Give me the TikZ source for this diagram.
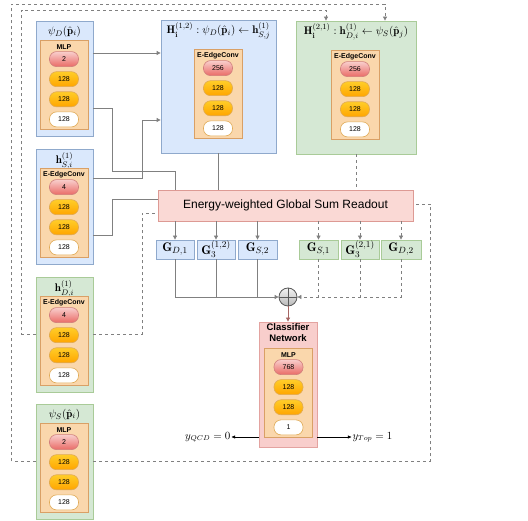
\documentclass[tikz,border=0pt]{standalone}
\usepackage{amsmath}
\usepackage{amssymb}
\usepackage{fontspec}
\setsansfont{Liberation Sans}
\usepackage{tikz}
\usetikzlibrary{positioning,arrows.meta}

\definecolor{blueFill}{HTML}{DAE8FC}
\definecolor{blueLine}{HTML}{8FA9CC}
\definecolor{greenFill}{HTML}{D5E8D4}
\definecolor{greenLine}{HTML}{A9CB98}
\definecolor{layerFill}{HTML}{FAD7AC}
\definecolor{layerLine}{HTML}{D9A066}
\definecolor{redTop}{HTML}{F8CECC}
\definecolor{redBot}{HTML}{EA6B66}
\definecolor{redLine}{HTML}{D07F7C}
\definecolor{yelTop}{HTML}{FFCD28}
\definecolor{yelBot}{HTML}{FFA500}
\definecolor{yelLine}{HTML}{E0AA55}
\definecolor{readFill}{HTML}{FAD9D5}
\definecolor{readLine}{HTML}{DD9A94}
\definecolor{clsFill}{HTML}{F8CECC}
\definecolor{clsLine}{HTML}{E3A3A0}
\definecolor{wireGray}{HTML}{808080}

\begin{document}
\begin{tikzpicture}[x=1pt,y=-1pt,
	blue box/.style={draw=blueLine, fill=blueFill, line width=0.8pt},
	green box/.style={draw=greenLine, fill=greenFill, line width=0.8pt},
	stack box/.style={minimum width=57pt, minimum height=115pt},
	layer box/.style={draw=layerLine, fill=layerFill, line width=0.8pt, minimum width=48pt, minimum height=89pt},
	pill/.style={rounded corners=7pt, minimum width=29pt, minimum height=15pt, inner sep=0pt, line width=0.6pt, font=\sffamily\fontsize{7}{8}\selectfont},
	red pill/.style={pill, draw=redLine, top color=redTop, bottom color=redBot},
	yellow pill/.style={pill, draw=yelLine, top color=yelTop, bottom color=yelBot},
	white pill/.style={pill, draw=yelLine, fill=white},
	layer name/.style={inner sep=0pt, font=\sffamily\bfseries\fontsize{7}{8}\selectfont},
	title node/.style={inner sep=0pt, font=\fontsize{11}{13}\selectfont},
	g node/.style={minimum height=19pt, inner sep=0pt, line width=0.8pt, font=\fontsize{12.5}{14}\selectfont},
	conn/.style={draw=wireGray, line width=0.8pt},
	conn arrow/.style={conn, -{Triangle[length=4pt,width=4pt]}},
	dash conn/.style={conn, dashed},
	dash arrow/.style={dash conn, -{Triangle[length=4pt,width=4pt]}}]

	\useasboundingbox (0,0) rectangle (528,521);

	\node[blue box, stack box](psiD) at (64.5,78.5){};
		\node[title node](psiDt) at ([yshift=-11pt]psiD.north){$\psi_D(\hat{\mathbf{p}}_i)$};
		\node[layer box](psiDin) at (64,84.5){};
		\node[layer name](psiDn) at ([yshift=-7pt]psiDin.north){MLP};
		\node[red pill](psiD1) at ([yshift=-19.5pt]psiDin.north){2};
		\node[yellow pill](psiD2)[below = 4.5pt of psiD1]{128};
		\node[yellow pill](psiD3)[below = 4.5pt of psiD2]{128};
		\node[white pill](psiD4)[below = 4.5pt of psiD3]{128};

	\node[blue box, stack box](hS) at (64.5,206.5){};
		\node[title node](hSt) at ([yshift=-12pt]hS.north){$\mathbf{h}_{S,i}^{(1)}$};
		\node[layer box](hSin) at (64,212.5){};
		\node[layer name](hSn) at ([yshift=-7pt]hSin.north){E-EdgeConv};
		\node[red pill](hS1) at ([yshift=-19.5pt]hSin.north){4};
		\node[yellow pill](hS2)[below = 4.5pt of hS1]{128};
		\node[yellow pill](hS3)[below = 4.5pt of hS2]{128};
		\node[white pill](hS4)[below = 4.5pt of hS3]{128};

	\node[green box, stack box](hD) at (64.5,334.5){};
		\node[title node](hDt) at ([yshift=-12pt]hD.north){$\mathbf{h}_{D,i}^{(1)}$};
		\node[layer box](hDin) at (64,340.5){};
		\node[layer name](hDn) at ([yshift=-7pt]hDin.north){E-EdgeConv};
		\node[red pill](hD1) at ([yshift=-19.5pt]hDin.north){4};
		\node[yellow pill](hD2)[below = 4.5pt of hD1]{128};
		\node[yellow pill](hD3)[below = 4.5pt of hD2]{128};
		\node[white pill](hD4)[below = 4.5pt of hD3]{128};

	\node[green box, stack box](psiS) at (64.5,461.5){};
		\node[title node](psiSt) at ([yshift=-11pt]psiS.north){$\psi_S(\hat{\mathbf{p}}_i)$};
		\node[layer box](psiSin) at (64,467.5){};
		\node[layer name](psiSn) at ([yshift=-7pt]psiSin.north){MLP};
		\node[red pill](psiS1) at ([yshift=-19.5pt]psiSin.north){2};
		\node[yellow pill](psiS2)[below = 4.5pt of psiS1]{128};
		\node[yellow pill](psiS3)[below = 4.5pt of psiS2]{128};
		\node[white pill](psiS4)[below = 4.5pt of psiS3]{128};

	\node[blue box, minimum width=115pt, minimum height=133pt](H12) at (218.5,86.5){};
		\node[title node](H12t) at ([yshift=-11pt]H12.north){$\mathbf{H}_{\mathbf{i}}^{(1,2)}:\psi_D(\hat{\mathbf{p}}_i)\leftarrow\mathbf{h}_{S,j}^{(1)}$};
		\node[layer box](H12in) at (218,93.5){};
		\node[layer name](H12n) at ([yshift=-7pt]H12in.north){E-EdgeConv};
		\node[red pill](H121) at ([yshift=-19.5pt]H12in.north){256};
		\node[yellow pill](H122)[below = 4.5pt of H121]{128};
		\node[yellow pill](H123)[below = 4.5pt of H122]{128};
		\node[white pill](H124)[below = 4.5pt of H123]{128};

	\node[green box, minimum width=120pt, minimum height=133pt](H21) at (356,87.5){};
		\node[title node](H21t) at ([yshift=-11pt]H21.north){$\mathbf{H}_{\mathbf{i}}^{(2,1)}:\mathbf{h}_{D,i}^{(1)}\leftarrow\psi_S(\hat{\mathbf{p}}_j)$};
		\node[layer box](H21in) at (355,94.5){};
		\node[layer name](H21n) at ([yshift=-7pt]H21in.north){E-EdgeConv};
		\node[red pill](H211) at ([yshift=-19.5pt]H21in.north){256};
		\node[yellow pill](H212)[below = 4.5pt of H211]{128};
		\node[yellow pill](H213)[below = 4.5pt of H212]{128};
		\node[white pill](H214)[below = 4.5pt of H213]{128};

	\node[draw=readLine, fill=readFill, line width=0.8pt, minimum width=255pt, minimum height=31pt, font=\sffamily\fontsize{12}{14}\selectfont](readout) at (285.5,205.5){Energy-weighted Global Sum Readout};

	\node[g node, blue box, minimum width=38pt](GD1) at (175,249.5){$\mathbf{G}_{D,1}$};
	\node[g node, blue box, minimum width=38pt](G312) at (216,249.5){$\mathbf{G}_3^{(1,2)}$};
	\node[g node, blue box, minimum width=39pt](GS2) at (257.5,249.5){$\mathbf{G}_{S,2}$};
	\node[g node, green box, minimum width=39pt](GS1) at (318.5,249.5){$\mathbf{G}_{S,1}$};
	\node[g node, green box, minimum width=38pt](G321) at (360,249.5){$\mathbf{G}_3^{(2,1)}$};
	\node[g node, green box, minimum width=40pt](GD2) at (401,249.5){$\mathbf{G}_{D,2}$};

	\node[circle, draw=black!65, line width=0.8pt, minimum size=18pt, inner sep=0pt, top color=gray!10, bottom color=gray!55](plus) at (288,297){};
	\draw[black!65, line width=0.8pt] (plus.north) -- (plus.south) (plus.west) -- (plus.east);

	\node[draw=clsLine, fill=clsFill, line width=0.8pt, minimum width=58pt, minimum height=125pt](cls) at (288,384.5){};
		\node[align=center, inner sep=0pt, font=\sffamily\bfseries\fontsize{9.5}{10.5}\selectfont](clst) at ([yshift=-11pt]cls.north){Classifier\\Network};
		\node[layer box](clsin) at (288.5,392.5){};
		\node[layer name](clsn) at ([yshift=-7pt]clsin.north){MLP};
		\node[red pill](cls1) at ([yshift=-19.5pt]clsin.north){768};
		\node[yellow pill](cls2)[below = 4.5pt of cls1]{128};
		\node[yellow pill](cls3)[below = 4.5pt of cls2]{128};
		\node[white pill](cls4)[below = 4.5pt of cls3]{1};

	\node[anchor=east, inner sep=1pt, font=\fontsize{10.5}{12}\selectfont](yqcd) at ([xshift=-27pt,yshift=-52.5pt]cls.west){$y_{QCD}=0$};
	\node[anchor=west, inner sep=1pt, font=\fontsize{10.5}{12}\selectfont](ytop) at ([xshift=34pt,yshift=-52.5pt]cls.east){$y_{Top}=1$};

	\draw[conn arrow] ([yshift=25.5pt]psiD.east) -- ([yshift=25.5pt]psiD.east -| H12.west);
	\draw[conn] ([yshift=-29.5pt]psiD.east) -- ++(19,0) -- ++(0,63) -| (readout.north -| GD1);
	\draw[conn arrow] ([yshift=28.5pt]hS.east) -- ++(49,0) |- ([yshift=-33.5pt]H12.west);
	\draw[conn] ([yshift=-28.5pt]hS.east) -- ++(19,0) |- ([yshift=6.5pt]readout.west);
	\draw[conn] (H12.south) -- (H12.south |- readout.north);
	\draw[dash conn] (H21.south) -- (H21.south |- readout.north);

	\draw[dash conn] (hD.east) -- ++(49,0) |- ([yshift=-7.5pt]readout.west);
	\draw[dash arrow] (hD.west) -- ++(-14,0) -- ++(0,-324.5) -| ([xshift=-30pt]H21.north);
	\draw[dash arrow] (psiS.west) -- ++(-24,0) -- ++(0,-457.5) -| ([xshift=29pt]H21.north);
	\draw[dash conn] (psiS.east) -- ++(337,0) |- ([yshift=1.5pt]readout.east);

	\path
	(readout.south -| GD1) edge[conn arrow] (GD1)
	(readout.south -| G312) edge[conn arrow] (G312)
	(readout.south -| GS2) edge[conn arrow] (GS2)
	(readout.south -| GS1) edge[dash arrow] (GS1)
	(readout.south -| G321) edge[dash arrow] (G321)
	(readout.south -| GD2) edge[dash arrow] (GD2);

	\draw[conn arrow] (GD1.south) |- (plus.west);
	\draw[conn] (G312.south) -- (G312.south |- plus.west);
	\draw[conn] (GS2.south) -- (GS2.south |- plus.west);
	\draw[dash arrow] (GD2.south) |- (plus.east);
	\draw[dash conn] (G321.south) -- (G321.south |- plus.east);
	\draw[dash conn] (GS1.south) -- (GS1.south |- plus.east);

	\draw[draw=redLine!80!black, line width=0.8pt, -{Triangle[length=4pt,width=4pt]}] (plus.south) -- (cls.north);
	\draw[black, line width=0.6pt, -{Triangle[length=3.5pt,width=3pt]}] ([yshift=-52.5pt]cls.west) -- (yqcd.east);
	\draw[black, line width=0.6pt, -{Triangle[length=3.5pt,width=3pt]}] ([yshift=-52.5pt]cls.east) -- (ytop.west);
\end{tikzpicture}
\end{document}
